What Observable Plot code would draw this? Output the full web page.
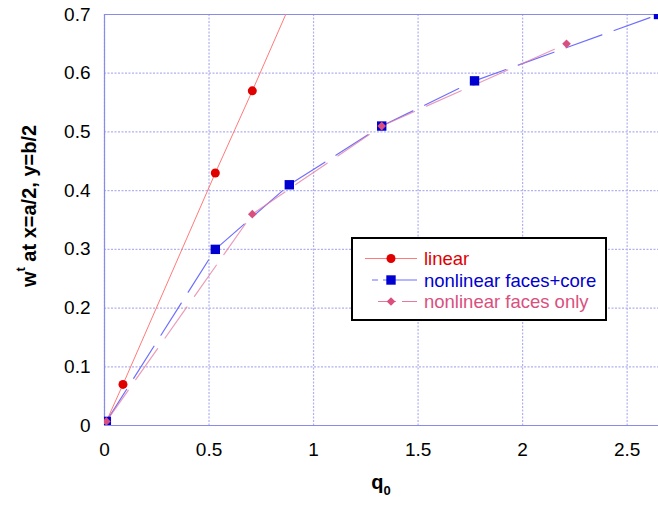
<!DOCTYPE html>
<html>
<head>
<meta charset="utf-8">
<script src="https://cdn.jsdelivr.net/npm/d3@7"></script>
<script src="https://cdn.jsdelivr.net/npm/@observablehq/plot@0.6"></script>
<style>
  html, body { margin: 0; padding: 0; background: #fff; }
  #chart svg { display: block; font-family: "Liberation Sans", Arial, sans-serif; }
</style>
</head>
<body>
<div id="chart"></div>
<script>
// Transverse deflection w^t at the plate centre versus load q0
const qLinear = [0, 0.0884, 0.53, 0.707, 0.884];
const wLinear = [0, 0.07, 0.43, 0.57, 0.714];

const qFacesCore = [0.00884, 0.53, 0.884, 1.326, 1.77, 2.65];
const wFacesCore = [0.007, 0.30, 0.41, 0.51, 0.587, 0.70];

const qFacesOnly = [0.00884, 0.707, 1.326, 2.21];
const wFacesOnly = [0.007, 0.36, 0.51, 0.65];

const xTicks = [0, 0.5, 1, 1.5, 2, 2.5];
const yTicks = [0, 0.1, 0.2, 0.3, 0.4, 0.5, 0.6, 0.7];

const seriesNames = ["linear", "nonlinear faces+core", "nonlinear faces only"];

const toRows = (qs, ws) => qs.map((q, i) => ({q, w: ws[i]}));
const linear = toRows(qLinear, wLinear);
const facesCore = toRows(qFacesCore, wFacesCore);
const facesOnly = toRows(qFacesOnly, wFacesOnly);

const RED = "#e00000", RED_LINE = "#ff7a7a";
const BLUE = "#0000d0", BLUE_LINE = "#6e6eff";
const PINK = "#d9507e", PINK_LINE = "#e37aa0";
const GRID = "#b0b0f2", FRAME = "#8a8ae8";
const DASH = "38,13";

const fmt = d3.format("~g");

const svg = Plot.plot({
  width: 658,
  height: 506,
  marginLeft: 104,
  marginRight: 0,
  marginTop: 14,
  marginBottom: 81,
  style: {fontFamily: "Liberation Sans, Arial, sans-serif", fontSize: "19px", color: "#000"},
  x: {domain: [0, 2.65]},
  y: {domain: [0, 0.7]},
  marks: [
    Plot.gridX(xTicks, {stroke: GRID, strokeOpacity: 1, strokeDasharray: "2,1.5", strokeWidth: 1.2}),
    Plot.gridY(yTicks, {stroke: GRID, strokeOpacity: 1, strokeDasharray: "2,1.5", strokeWidth: 1.2}),
    Plot.ruleX([0], {stroke: FRAME, strokeWidth: 1.2}),
    Plot.ruleY([0, 0.7], {stroke: FRAME, strokeWidth: 1.2}),
    Plot.axisX(xTicks, {tickSize: 0, tickPadding: 17, tickFormat: fmt, fontSize: 19, label: null}),
    Plot.axisY(yTicks, {tickSize: 0, tickPadding: 14, tickFormat: fmt, fontSize: 19, label: null}),
    Plot.line(linear, {x: "q", y: "w", stroke: RED_LINE, strokeWidth: 1, clip: true}),
    Plot.line(facesCore, {x: "q", y: "w", stroke: BLUE_LINE, strokeWidth: 1.2, strokeDasharray: DASH, clip: true}),
    Plot.line(facesOnly, {x: "q", y: "w", stroke: PINK_LINE, strokeWidth: 1.2, strokeOpacity: 0.75, strokeDasharray: DASH, clip: true}),
    Plot.dot(linear, {x: "q", y: "w", symbol: "circle", r: 4.5, fill: RED, clip: true}),
    Plot.dot(facesCore, {x: "q", y: "w", symbol: "square", r: 5.3, fill: BLUE, clip: true}),
    Plot.dot(facesOnly, {x: "q", y: "w", symbol: "diamond2", r: 3.9, fill: PINK, clip: true})
  ]
});

const root = d3.select(svg);

// y-axis title with superscript t
const yTitle = root.append("text")
  .attr("transform", "translate(36,206) rotate(-90)")
  .attr("text-anchor", "middle")
  .attr("font-weight", "bold")
  .attr("font-size", 20)
  .attr("fill", "#000");
yTitle.append("tspan").text("w");
yTitle.append("tspan").attr("font-size", 13).attr("dy", -11).text("t");
yTitle.append("tspan").attr("dy", 11).text(" at x=a/2, y=b/2");

// x-axis title with subscript 0
const xTitle = root.append("text")
  .attr("x", 381)
  .attr("y", 489)
  .attr("text-anchor", "middle")
  .attr("font-weight", "bold")
  .attr("font-size", 20)
  .attr("fill", "#000");
xTitle.append("tspan").text("q");
xTitle.append("tspan").attr("font-size", 13).attr("dy", 6).text("0");

// legend box
const legend = root.append("g").attr("text-anchor", "start");
legend.append("rect")
  .attr("x", 352).attr("y", 238).attr("width", 254).attr("height", 82)
  .attr("fill", "#fff").attr("stroke", "#000").attr("stroke-width", 2);

const entries = [
  {name: seriesNames[0], color: RED, line: RED_LINE, dash: null, x1: 365, symbol: d3.symbolCircle, r: 4.5},
  {name: seriesNames[1], color: BLUE, line: BLUE_LINE, dash: "6,5,40", x1: 372, symbol: d3.symbolSquare, r: 5.3},
  {name: seriesNames[2], color: PINK, line: PINK_LINE, dash: "18,6,30", x1: 378, symbol: d3.symbolDiamond2, r: 3.9}
];
entries.forEach((e, i) => {
  const cy = 258.5 + i * 21.5;
  const ln = legend.append("line")
    .attr("x1", e.x1).attr("x2", 417).attr("y1", cy).attr("y2", cy)
    .attr("stroke", e.line).attr("stroke-width", 1.2);
  if (e.dash) ln.attr("stroke-dasharray", e.dash);
  legend.append("path")
    .attr("transform", `translate(391,${cy})`)
    .attr("d", d3.symbol(e.symbol, Math.PI * e.r * e.r)())
    .attr("fill", e.color);
  legend.append("text")
    .attr("x", 424).attr("y", cy + 6.5)
    .attr("text-anchor", "start")
    .attr("font-size", 18.5)
    .attr("fill", e.color)
    .text(e.name);
});

document.getElementById("chart").appendChild(svg);
</script>
</body>
</html>
